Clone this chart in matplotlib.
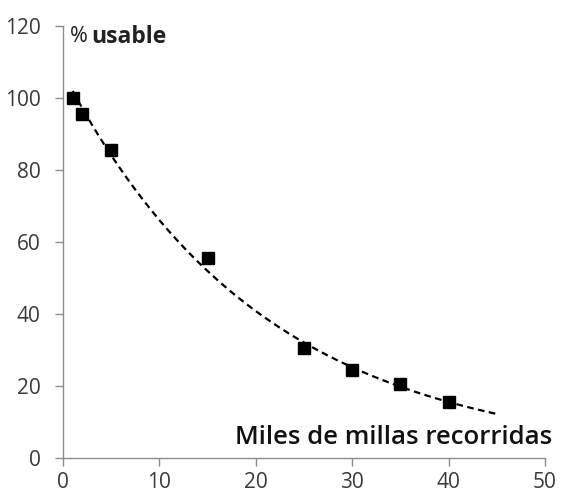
import numpy as np
import matplotlib
matplotlib.use("Agg")
import matplotlib.pyplot as plt

miles = [1, 2, 5, 15, 25, 30, 35, 40]
usable = [100, 95.5, 85.5, 55.5, 30.5, 24.5, 20.5, 15.5]
x_ticks = [0, 10, 20, 30, 40, 50]
y_ticks = [0, 20, 40, 60, 80, 100, 120]

plt.rcParams['font.family'] = ['Open Sans', 'DejaVu Sans']

fig = plt.figure(figsize=(5.63, 4.96), dpi=100)
ax = fig.add_axes([0.112, 0.0766, 0.856, 0.871])

# exponential trend line fitted to the points
xs = np.array(miles, float)
ys = np.array(usable, float)
b, a = np.polyfit(xs, np.log(ys), 1)
xt = np.linspace(1, 45, 200)
ax.plot(xt, np.exp(a + b * xt), color='black', lw=1.6, ls=(0, (3, 2)), zorder=2)

ax.plot(miles, usable, 's', color='black', ms=8, zorder=3, clip_on=False)

ax.set_xlim(0, 50)
ax.set_ylim(0, 120)
ax.set_xticks(x_ticks)
ax.set_yticks(y_ticks)
for s in ['top', 'right']:
    ax.spines[s].set_visible(False)
for s in ['left', 'bottom']:
    ax.spines[s].set_color('#8c8c8c')
    ax.spines[s].set_linewidth(1.0)
ax.tick_params(axis='both', colors='#8c8c8c', length=6, width=1.0, labelsize=15, labelcolor='#3a3a3a')
ax.tick_params(axis='x', pad=4)
ax.tick_params(axis='y', pad=10)

ax.text(0.7, 117, '%', fontsize=15.5, color='#222222', va='center', ha='left')
ax.text(2.9, 117, 'usable', fontsize=16.5, fontweight='bold', color='#222222', va='center', ha='left')
ax.text(50.8, 5.8, 'Miles de millas recorridas', fontsize=18.5, fontweight='semibold',
        color='#111111', va='center', ha='right', clip_on=False)

fig.savefig('out.png', dpi=100)
